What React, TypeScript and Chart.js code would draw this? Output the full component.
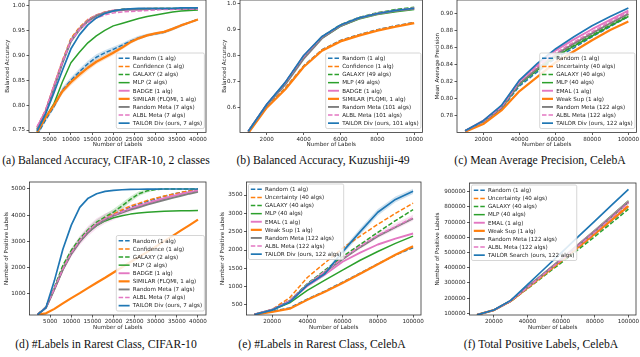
import React, { useEffect, useRef } from "react";
import { Chart, registerables } from "chart.js";

Chart.register(...registerables);

const FONT = "'DejaVu Sans', sans-serif";
const FS = 5.6;
const INK = "#1e1e1e";

// ---------- (a) Balanced Accuracy, CIFAR-10, 2 classes
const A_X = [2000, 4000, 6000, 8000, 10000, 12000, 14000, 16000, 18000, 20000, 22000, 24000, 26000, 28000, 30000, 32000, 34000, 36000, 38000, 40000];
const A_RANDOM = [0.740, 0.770, 0.797, 0.830, 0.850, 0.867, 0.883, 0.896, 0.905, 0.912, 0.920, 0.928, 0.935, 0.940, 0.943, 0.946, 0.953, 0.960, 0.966, 0.972];
const A_CONF = [0.755, 0.790, 0.840, 0.890, 0.934, 0.956, 0.972, 0.981, 0.987, 0.990, 0.992, 0.993, 0.993, 0.994, 0.994, 0.994, 0.994, 0.994, 0.994, 0.994];
const A_GALAXY = [0.752, 0.787, 0.837, 0.887, 0.931, 0.954, 0.970, 0.980, 0.986, 0.990, 0.992, 0.993, 0.993, 0.993, 0.994, 0.994, 0.994, 0.994, 0.994, 0.994];
const A_MLP = [0.745, 0.775, 0.803, 0.847, 0.885, 0.906, 0.925, 0.939, 0.950, 0.959, 0.964, 0.969, 0.974, 0.978, 0.981, 0.984, 0.987, 0.989, 0.990, 0.991];
const A_BADGE = [0.755, 0.788, 0.838, 0.887, 0.930, 0.953, 0.970, 0.980, 0.986, 0.990, 0.991, 0.992, 0.992, 0.993, 0.993, 0.993, 0.993, 0.993, 0.993, 0.993];
const A_SIMILAR = [0.745, 0.775, 0.800, 0.828, 0.846, 0.861, 0.875, 0.887, 0.896, 0.905, 0.915, 0.926, 0.934, 0.940, 0.944, 0.947, 0.953, 0.960, 0.966, 0.972];
const A_RMETA = [0.750, 0.785, 0.834, 0.884, 0.928, 0.951, 0.968, 0.979, 0.985, 0.989, 0.991, 0.992, 0.992, 0.993, 0.993, 0.993, 0.993, 0.993, 0.993, 0.993];
const A_ALBL = [0.757, 0.789, 0.838, 0.886, 0.929, 0.951, 0.966, 0.975, 0.981, 0.985, 0.987, 0.988, 0.989, 0.990, 0.991, 0.992, 0.992, 0.993, 0.993, 0.993];
const A_TAILOR = [0.748, 0.782, 0.825, 0.870, 0.913, 0.941, 0.961, 0.975, 0.984, 0.989, 0.992, 0.993, 0.994, 0.994, 0.994, 0.994, 0.994, 0.995, 0.995, 0.995];
const A_RANDOM_SD = [0.004, 0.004, 0.005, 0.006, 0.006, 0.006, 0.006, 0.006, 0.005, 0.005, 0.004, 0.004, 0.004, 0.003, 0.003, 0.003, 0.003, 0.003, 0.002, 0.002];
const A_SIMILAR_SD = [0.005, 0.005, 0.006, 0.006, 0.006, 0.006, 0.006, 0.005, 0.005, 0.005, 0.004, 0.004, 0.003, 0.003, 0.003, 0.003, 0.003, 0.002, 0.002, 0.002];
const A_X_TICKS = [5000, 10000, 15000, 20000, 25000, 30000, 35000, 40000];
const A_Y_TICKS = [0.75, 0.80, 0.85, 0.90, 0.95, 1.00];

// ---------- (b) Balanced Accuracy, Kuzushiji-49
const B_X = [1000, 2000, 3000, 4000, 5000, 6000, 7000, 8000, 9000, 10000];
const B_RANDOM = [0.505, 0.603, 0.675, 0.760, 0.822, 0.858, 0.880, 0.899, 0.914, 0.927];
const B_CONF = [0.505, 0.602, 0.674, 0.759, 0.821, 0.857, 0.879, 0.898, 0.913, 0.926];
const B_GALAXY = [0.510, 0.612, 0.695, 0.797, 0.872, 0.918, 0.946, 0.964, 0.976, 0.985];
const B_MLP = [0.510, 0.611, 0.692, 0.792, 0.867, 0.912, 0.940, 0.957, 0.968, 0.976];
const B_BADGE = [0.510, 0.612, 0.695, 0.797, 0.871, 0.915, 0.943, 0.960, 0.972, 0.980];
const B_SIMILAR = [0.503, 0.600, 0.670, 0.756, 0.818, 0.854, 0.876, 0.895, 0.910, 0.924];
const B_RMETA = [0.508, 0.609, 0.688, 0.787, 0.866, 0.913, 0.942, 0.960, 0.971, 0.979];
const B_ALBL = [0.510, 0.612, 0.695, 0.796, 0.871, 0.916, 0.944, 0.962, 0.973, 0.982];
const B_TAILOR = [0.510, 0.613, 0.697, 0.800, 0.873, 0.917, 0.944, 0.961, 0.973, 0.981];
const B_X_TICKS = [2000, 4000, 6000, 8000, 10000];
const B_Y_TICKS = [0.6, 0.7, 0.8, 0.9, 1.0];

// ---------- (c) Mean Average Precision, CelebA
const C_X = [10000, 20000, 30000, 40000, 50000, 60000, 70000, 80000, 90000, 100000];
const C_RANDOM = [0.762, 0.772, 0.788, 0.815, 0.832, 0.848, 0.860, 0.873, 0.885, 0.897];
const C_UNC = [0.762, 0.773, 0.790, 0.819, 0.837, 0.853, 0.866, 0.878, 0.889, 0.900];
const C_GALAXY = [0.762, 0.773, 0.789, 0.818, 0.835, 0.851, 0.863, 0.875, 0.887, 0.898];
const C_MLP = [0.762, 0.773, 0.789, 0.817, 0.834, 0.850, 0.862, 0.874, 0.886, 0.897];
const C_EMAL = [0.762, 0.774, 0.791, 0.821, 0.840, 0.857, 0.870, 0.882, 0.893, 0.904];
const C_WEAK = [0.761, 0.770, 0.786, 0.809, 0.826, 0.843, 0.856, 0.869, 0.881, 0.891];
const C_RMETA = [0.762, 0.773, 0.789, 0.818, 0.836, 0.852, 0.865, 0.877, 0.889, 0.900];
const C_ALBL = [0.762, 0.773, 0.790, 0.820, 0.838, 0.854, 0.867, 0.879, 0.891, 0.902];
const C_TAILOR = [0.762, 0.774, 0.792, 0.822, 0.842, 0.859, 0.873, 0.886, 0.897, 0.907];
const C_X_TICKS = [20000, 40000, 60000, 80000, 100000];
const C_Y_TICKS = [0.78, 0.80, 0.82, 0.84, 0.86, 0.88, 0.90];

// ---------- (d) #Labels in Rarest Class, CIFAR-10
const D_X = [2000, 4000, 6000, 8000, 10000, 12000, 14000, 16000, 18000, 20000, 22000, 24000, 26000, 28000, 30000, 32000, 34000, 36000, 38000, 40000];
const D_RANDOM = [200, 480, 1200, 1960, 2560, 3020, 3390, 3670, 3870, 4020, 4160, 4300, 4420, 4530, 4630, 4720, 4800, 4870, 4930, 4980];
const D_CONF = [200, 480, 1200, 1960, 2570, 3030, 3400, 3680, 3890, 4050, 4200, 4350, 4450, 4560, 4650, 4730, 4800, 4870, 4920, 4960];
const D_GALAXY = [200, 500, 1250, 2080, 2660, 3100, 3450, 3730, 3930, 4120, 4350, 4600, 4820, 4930, 4980, 5000, 5000, 5000, 5000, 5000];
const D_MLP = [200, 470, 1200, 1950, 2550, 3000, 3350, 3600, 3780, 3900, 3980, 4040, 4080, 4110, 4130, 4145, 4155, 4165, 4170, 4175];
const D_BADGE = [200, 470, 1180, 1930, 2530, 2990, 3360, 3640, 3840, 4000, 4120, 4240, 4350, 4450, 4550, 4640, 4730, 4810, 4880, 4940];
const D_SIMILAR = [200, 250, 420, 630, 830, 1020, 1220, 1420, 1610, 1810, 2010, 2210, 2400, 2600, 2800, 3010, 3210, 3420, 3620, 3830];
const D_RMETA = [200, 460, 1170, 1920, 2520, 2980, 3340, 3620, 3820, 3980, 4100, 4210, 4300, 4400, 4490, 4580, 4660, 4740, 4820, 4890];
const D_ALBL = [200, 480, 1200, 1950, 2560, 3030, 3400, 3680, 3870, 4000, 4130, 4260, 4370, 4470, 4560, 4650, 4740, 4820, 4890, 4950];
const D_TAILOR = [200, 470, 1500, 2700, 3620, 4300, 4650, 4820, 4910, 4950, 4970, 4985, 4990, 4995, 4998, 5000, 5000, 5000, 5000, 5000];
const D_ALBL_SD = [0, 30, 80, 120, 160, 180, 200, 200, 190, 180, 160, 140, 120, 100, 80, 60, 50, 40, 30, 30];
const D_GALAXY_SD = [0, 20, 40, 60, 70, 80, 90, 100, 110, 120, 120, 110, 90, 60, 30, 10, 0, 0, 0, 0];
const D_X_TICKS = [5000, 10000, 15000, 20000, 25000, 30000, 35000, 40000];
const D_Y_TICKS = [1000, 2000, 3000, 4000, 5000];

// ---------- (e) #Labels in Rarest Class, CelebA
const E_X = [10000, 20000, 30000, 40000, 50000, 60000, 70000, 80000, 90000, 100000];
const E_RANDOM = [240, 330, 420, 660, 880, 1120, 1370, 1620, 1860, 2060];
const E_UNC = [240, 380, 700, 1250, 1650, 2050, 2380, 2700, 3000, 3280];
const E_GALAXY = [240, 370, 620, 1080, 1450, 1820, 2150, 2480, 2800, 3100];
const E_MLP = [240, 360, 560, 900, 1180, 1450, 1720, 1960, 2180, 2380];
const E_EMAL = [240, 370, 600, 1020, 1330, 1680, 1930, 2150, 2310, 2450];
const E_WEAK = [240, 310, 400, 640, 860, 1100, 1350, 1610, 1870, 2100];
const E_RMETA = [240, 370, 610, 1050, 1400, 1750, 2080, 2380, 2620, 2860];
const E_ALBL = [240, 370, 620, 1060, 1420, 1770, 2100, 2400, 2640, 2880];
const E_TAILOR = [240, 360, 580, 1040, 1350, 1950, 2500, 3030, 3380, 3600];
const E_TAILOR_SD = [0, 15, 30, 50, 60, 80, 90, 90, 80, 70];
const E_ALBL_SD = [0, 10, 20, 40, 50, 60, 70, 80, 80, 80];
const E_X_TICKS = [20000, 40000, 60000, 80000, 100000];
const E_Y_TICKS = [500, 1000, 1500, 2000, 2500, 3000, 3500];

// ---------- (f) Total Positive Labels, CelebA
const F_X = [10000, 20000, 30000, 40000, 50000, 60000, 70000, 80000, 90000, 100000];
const F_RANDOM = [90000, 121000, 180000, 267000, 355000, 443000, 531000, 619000, 708000, 800000];
const F_UNC = [90000, 121000, 181000, 268000, 357000, 446000, 535000, 625000, 717000, 810000];
const F_GALAXY = [90000, 120000, 178000, 262000, 347000, 432000, 518000, 605000, 694000, 785000];
const F_MLP = [90000, 121000, 183000, 275000, 366000, 459000, 552000, 646000, 742000, 840000];
const F_EMAL = [90000, 121000, 182000, 273000, 364000, 456000, 549000, 643000, 738000, 835000];
const F_WEAK = [90000, 121000, 180000, 267000, 356000, 445000, 533000, 622000, 713000, 805000];
const F_RMETA = [90000, 121000, 182000, 272000, 362000, 453000, 545000, 638000, 733000, 830000];
const F_ALBL = [90000, 121000, 181000, 270000, 360000, 450000, 541000, 633000, 728000, 825000];
const F_TAILOR = [90000, 122000, 185000, 289000, 393000, 498000, 602000, 706000, 811000, 915000];
const F_X_TICKS = [20000, 40000, 60000, 80000, 100000];
const F_Y_TICKS = [100000, 200000, 300000, 400000, 500000, 600000, 700000, 800000, 900000];

// ---------- styles
type Sty = { color: string; dash: number[]; w: number };
const STY: Record<string, Sty> = {
  random: { color: "#1f77b4", dash: [4.5, 2], w: 1.5 },
  conf: { color: "#ff7f0e", dash: [4.5, 2], w: 1.5 },
  galaxy: { color: "#2ca02c", dash: [4.5, 2], w: 1.5 },
  mlp: { color: "#2ca02c", dash: [], w: 1.5 },
  badge: { color: "#e377c2", dash: [], w: 1.9 },
  similar: { color: "#ff7f0e", dash: [], w: 2.2 },
  rmeta: { color: "#7f7f7f", dash: [], w: 1.9 },
  albl: { color: "#e377c2", dash: [4.5, 2], w: 1.5 },
  tailor: { color: "#1f77b4", dash: [], w: 1.7 },
};

type Series = { key: string; label: string; data: number[] };
type Band = { key: string; sd: number[] };
type Panel = {
  id: string;
  canvas: [number, number, number, number];
  frame: [number, number, number, number];
  xMin: number; xMax: number; yMin: number; yMax: number;
  xTicks: number[]; yTicks: number[]; yFmt: (v: number) => string;
  yTitle: string; yTitleX: number; xTitleY: number;
  xs: number[]; series: Series[]; bands: Band[];
  legendPos: "lr" | "ul";
  caption: string; capX: number; capY: number;
};

const f2 = (v: number) => v.toFixed(2);
const f1 = (v: number) => v.toFixed(1);
const f0 = (v: number) => String(Math.round(v));

const PANELS: Panel[] = [
  {
    id: "a", canvas: [0, 0, 213, 150], frame: [29, 0, 206, 132.5],
    xMin: 100, xMax: 41900, yMin: 0.745, yMax: 1.011,
    xTicks: A_X_TICKS, yTicks: A_Y_TICKS, yFmt: f2,
    yTitle: "Balanced Accuracy", yTitleX: 8, xTitleY: 145,
    xs: A_X,
    series: [
      { key: "random", label: "Random (1 alg)", data: A_RANDOM },
      { key: "conf", label: "Confidence (1 alg)", data: A_CONF },
      { key: "galaxy", label: "GALAXY (2 algs)", data: A_GALAXY },
      { key: "mlp", label: "MLP (2 algs)", data: A_MLP },
      { key: "badge", label: "BADGE (1 alg)", data: A_BADGE },
      { key: "similar", label: "SIMILAR (FLQMI, 1 alg)", data: A_SIMILAR },
      { key: "rmeta", label: "Random Meta (7 algs)", data: A_RMETA },
      { key: "albl", label: "ALBL Meta (7 algs)", data: A_ALBL },
      { key: "tailor", label: "TAILOR Div (ours, 7 algs)", data: A_TAILOR },
    ],
    bands: [{ key: "random", sd: A_RANDOM_SD }, { key: "similar", sd: A_SIMILAR_SD }],
    legendPos: "lr",
    caption: "(a) Balanced Accuracy, CIFAR-10, 2 classes", capX: 106, capY: 161,
  },
  {
    id: "b", canvas: [215, 0, 213, 150], frame: [240, 0, 422.5, 132.5],
    xMin: 550, xMax: 10450, yMin: 0.505, yMax: 1.0126,
    xTicks: B_X_TICKS, yTicks: B_Y_TICKS, yFmt: f1,
    yTitle: "Balanced Accuracy", yTitleX: 225, xTitleY: 145,
    xs: B_X,
    series: [
      { key: "random", label: "Random (1 alg)", data: B_RANDOM },
      { key: "conf", label: "Confidence (1 alg)", data: B_CONF },
      { key: "galaxy", label: "GALAXY (49 algs)", data: B_GALAXY },
      { key: "mlp", label: "MLP (49 algs)", data: B_MLP },
      { key: "badge", label: "BADGE (1 alg)", data: B_BADGE },
      { key: "similar", label: "SIMILAR (FLQMI, 1 alg)", data: B_SIMILAR },
      { key: "rmeta", label: "Random Meta (101 algs)", data: B_RMETA },
      { key: "albl", label: "ALBL Meta (101 algs)", data: B_ALBL },
      { key: "tailor", label: "TAILOR Div (ours, 101 algs)", data: B_TAILOR },
    ],
    bands: [],
    legendPos: "lr",
    caption: "(b) Balanced Accuracy, Kuzushiji-49", capX: 323, capY: 161,
  },
  {
    id: "c", canvas: [427, 0, 213, 150], frame: [457, 0, 636.5, 132.5],
    xMin: 5500, xMax: 104500, yMin: 0.760, yMax: 0.9165,
    xTicks: C_X_TICKS, yTicks: C_Y_TICKS, yFmt: f2,
    yTitle: "Mean Average Precision", yTitleX: 438, xTitleY: 145,
    xs: C_X,
    series: [
      { key: "random", label: "Random (1 alg)", data: C_RANDOM },
      { key: "conf", label: "Uncertainty (40 algs)", data: C_UNC },
      { key: "galaxy", label: "GALAXY (40 algs)", data: C_GALAXY },
      { key: "mlp", label: "MLP (40 algs)", data: C_MLP },
      { key: "badge", label: "EMAL (1 alg)", data: C_EMAL },
      { key: "similar", label: "Weak Sup (1 alg)", data: C_WEAK },
      { key: "rmeta", label: "Random Meta (122 algs)", data: C_RMETA },
      { key: "albl", label: "ALBL Meta (122 algs)", data: C_ALBL },
      { key: "tailor", label: "TAILOR Div (ours, 122 algs)", data: C_TAILOR },
    ],
    bands: [],
    legendPos: "lr",
    caption: "(c) Mean Average Precision, CelebA", capX: 540, capY: 161,
  },
  {
    id: "d", canvas: [0, 176, 213, 156], frame: [29.5, 182, 206, 315],
    xMin: 100, xMax: 41900, yMin: 186, yMax: 5267,
    xTicks: D_X_TICKS, yTicks: D_Y_TICKS, yFmt: f0,
    yTitle: "Number of Positive Labels", yTitleX: 7, xTitleY: 328,
    xs: D_X,
    series: [
      { key: "random", label: "Random (1 alg)", data: D_RANDOM },
      { key: "conf", label: "Confidence (1 alg)", data: D_CONF },
      { key: "galaxy", label: "GALAXY (2 algs)", data: D_GALAXY },
      { key: "mlp", label: "MLP (2 algs)", data: D_MLP },
      { key: "badge", label: "BADGE (1 alg)", data: D_BADGE },
      { key: "similar", label: "SIMILAR (FLQMI, 1 alg)", data: D_SIMILAR },
      { key: "rmeta", label: "Random Meta (7 algs)", data: D_RMETA },
      { key: "albl", label: "ALBL Meta (7 algs)", data: D_ALBL },
      { key: "tailor", label: "TAILOR Div (ours, 7 algs)", data: D_TAILOR },
    ],
    bands: [{ key: "albl", sd: D_ALBL_SD }, { key: "galaxy", sd: D_GALAXY_SD }],
    legendPos: "lr",
    caption: "(d) #Labels in Rarest Class, CIFAR-10", capX: 106, capY: 345,
  },
  {
    id: "e", canvas: [215, 176, 213, 156], frame: [246.5, 182, 421, 315],
    xMin: 5500, xMax: 104500, yMin: 227, yMax: 3855,
    xTicks: E_X_TICKS, yTicks: E_Y_TICKS, yFmt: f0,
    yTitle: "Number of Positive Labels", yTitleX: 223, xTitleY: 328,
    xs: E_X,
    series: [
      { key: "random", label: "Random (1 alg)", data: E_RANDOM },
      { key: "conf", label: "Uncertainty (40 algs)", data: E_UNC },
      { key: "galaxy", label: "GALAXY (40 algs)", data: E_GALAXY },
      { key: "mlp", label: "MLP (40 algs)", data: E_MLP },
      { key: "badge", label: "EMAL (1 alg)", data: E_EMAL },
      { key: "similar", label: "Weak Sup (1 alg)", data: E_WEAK },
      { key: "rmeta", label: "Random Meta (122 algs)", data: E_RMETA },
      { key: "albl", label: "ALBL Meta (122 algs)", data: E_ALBL },
      { key: "tailor", label: "TAILOR Div (ours, 122 algs)", data: E_TAILOR },
    ],
    bands: [{ key: "tailor", sd: E_TAILOR_SD }, { key: "albl", sd: E_ALBL_SD }],
    legendPos: "ul",
    caption: "(e) #Labels in Rarest Class, CelebA", capX: 322, capY: 345,
  },
  {
    id: "f", canvas: [427, 176, 213, 156], frame: [469.5, 183, 636, 315],
    xMin: 5500, xMax: 104500, yMin: 88800, yMax: 957000,
    xTicks: F_X_TICKS, yTicks: F_Y_TICKS, yFmt: f0,
    yTitle: "Number of Positive Labels", yTitleX: 438, xTitleY: 328,
    xs: F_X,
    series: [
      { key: "random", label: "Random (1 alg)", data: F_RANDOM },
      { key: "conf", label: "Uncertainty (40 algs)", data: F_UNC },
      { key: "galaxy", label: "GALAXY (40 algs)", data: F_GALAXY },
      { key: "mlp", label: "MLP (40 algs)", data: F_MLP },
      { key: "badge", label: "EMAL (1 alg)", data: F_EMAL },
      { key: "similar", label: "Weak Sup (1 alg)", data: F_WEAK },
      { key: "rmeta", label: "Random Meta (122 algs)", data: F_RMETA },
      { key: "albl", label: "ALBL Meta (122 algs)", data: F_ALBL },
      { key: "tailor", label: "TAILOR Search (ours, 122 algs)", data: F_TAILOR },
    ],
    bands: [],
    legendPos: "ul",
    caption: "(f) Total Positive Labels, CelebA", capX: 541, capY: 345,
  },
];

function hexA(hex: string, a: number) {
  const n = parseInt(hex.slice(1), 16);
  return `rgba(${(n >> 16) & 255},${(n >> 8) & 255},${n & 255},${a})`;
}

function roundRectPath(ctx: CanvasRenderingContext2D, x: number, y: number, w: number, h: number, r: number) {
  ctx.beginPath();
  ctx.moveTo(x + r, y);
  ctx.lineTo(x + w - r, y);
  ctx.arcTo(x + w, y, x + w, y + r, r);
  ctx.lineTo(x + w, y + h - r);
  ctx.arcTo(x + w, y + h, x + w - r, y + h, r);
  ctx.lineTo(x + r, y + h);
  ctx.arcTo(x, y + h, x, y + h - r, r);
  ctx.lineTo(x, y + r);
  ctx.arcTo(x, y, x + r, y, r);
  ctx.closePath();
}

function buildConfig(p: Panel): any {
  const [cl, ct, cw, chh] = p.canvas;
  const [fl, ft, fr, fb] = p.frame;
  const lh = FS * 1.2;
  const datasets: any[] = [];
  p.bands.forEach((b) => {
    const base = p.series.find((s) => s.key === b.key)!.data;
    const c = STY[b.key].color;
    datasets.push({
      label: "_band_hi",
      data: p.xs.map((x, j) => ({ x, y: base[j] + b.sd[j] })),
      borderWidth: 0, borderColor: "rgba(0,0,0,0)", pointRadius: 0,
      backgroundColor: hexA(c, 0.22), fill: "+1", order: 100,
    });
    datasets.push({
      label: "_band_lo",
      data: p.xs.map((x, j) => ({ x, y: base[j] - b.sd[j] })),
      borderWidth: 0, borderColor: "rgba(0,0,0,0)", pointRadius: 0,
      fill: false, order: 100,
    });
  });
  const n = p.series.length;
  p.series.forEach((s, i) => {
    const st = STY[s.key];
    datasets.push({
      label: s.label,
      data: p.xs.map((x, j) => ({ x, y: s.data[j] })),
      borderColor: st.color, borderDash: st.dash, borderWidth: st.w,
      pointRadius: 0, fill: false, tension: 0, order: n - i,
      borderCapStyle: "butt", borderJoinStyle: "round",
    });
  });

  const frameLegend = {
    id: "frameLegend",
    afterDatasetsDraw(chart: any) {
      const ctx: CanvasRenderingContext2D = chart.ctx;
      const a = chart.chartArea;
      ctx.save();
      ctx.strokeStyle = "#333";
      ctx.lineWidth = 0.8;
      ctx.setLineDash([]);
      ctx.strokeRect(a.left, a.top, a.right - a.left, a.bottom - a.top);

      ctx.font = `${FS}px ${FONT}`;
      const tw = Math.max(...p.series.map((s) => ctx.measureText(s.label).width));
      const rowH = 8.1;
      const padX = 2.3, hl = 11, gap = 3.2;
      const w = padX + hl + gap + tw + padX;
      const h = rowH * n + 2.6;
      let x0: number, y0: number;
      if (p.legendPos === "lr") { x0 = a.right - 1.6 - w; y0 = a.bottom - 4 - h; }
      else { x0 = a.left + 2; y0 = a.top + 2; }
      roundRectPath(ctx, x0, y0, w, h, 1.6);
      ctx.fillStyle = "rgba(255,255,255,0.85)";
      ctx.fill();
      ctx.strokeStyle = "#cccccc";
      ctx.lineWidth = 0.8;
      ctx.stroke();
      p.series.forEach((s, i) => {
        const st = STY[s.key];
        const cy = y0 + 1.3 + rowH * (i + 0.5);
        ctx.beginPath();
        ctx.setLineDash(st.dash);
        ctx.strokeStyle = st.color;
        ctx.lineWidth = st.w;
        ctx.lineCap = "butt";
        ctx.moveTo(x0 + padX, cy);
        ctx.lineTo(x0 + padX + hl, cy);
        ctx.stroke();
        ctx.setLineDash([]);
        ctx.fillStyle = INK;
        ctx.textBaseline = "middle";
        ctx.textAlign = "left";
        ctx.fillText(s.label, x0 + padX + hl + gap, cy + 0.3);
      });
      ctx.restore();
    },
  };

  const tickFont = { family: FONT, size: FS };
  return {
    type: "line",
    data: { datasets },
    plugins: [frameLegend],
    options: {
      animation: false,
      responsive: false,
      maintainAspectRatio: false,
      devicePixelRatio: 1,
      events: [],
      layout: { padding: { left: 0, top: ft - ct, right: cl + cw - fr, bottom: 0 } },
      plugins: { legend: { display: false }, tooltip: { enabled: false } },
      scales: {
        x: {
          type: "linear", min: p.xMin, max: p.xMax,
          afterBuildTicks: (s: any) => { s.ticks = p.xTicks.map((v) => ({ value: v })); },
          afterFit: (s: any) => { s.height = ct + chh - fb; s.paddingLeft = 0; s.paddingRight = 0; },
          ticks: { font: tickFont, color: INK, padding: 1, maxRotation: 0, autoSkip: false, callback: (v: any) => f0(Number(v)) },
          grid: { display: true, drawOnChartArea: false, drawTicks: true, tickLength: 2.5, color: "#333", lineWidth: 0.8 },
          border: { display: false },
          title: { display: true, text: "Number of Labels", font: tickFont, color: INK, padding: { top: 0, bottom: ct + chh - p.xTitleY - lh / 2 } },
        },
        y: {
          type: "linear", min: p.yMin, max: p.yMax,
          afterBuildTicks: (s: any) => { s.ticks = p.yTicks.map((v) => ({ value: v })); },
          afterFit: (s: any) => { s.width = fl - cl; s.paddingTop = 0; s.paddingBottom = 0; },
          ticks: { font: tickFont, color: INK, padding: 1.5, autoSkip: false, callback: (v: any) => p.yFmt(Number(v)) },
          grid: { display: true, drawOnChartArea: false, drawTicks: true, tickLength: 2.5, color: "#333", lineWidth: 0.8 },
          border: { display: false },
          title: { display: true, text: p.yTitle, font: tickFont, color: INK, padding: { top: p.yTitleX - cl - lh / 2, bottom: 0 } },
        },
      },
    },
  };
}

function PanelChart({ p }: { p: Panel }) {
  const ref = useRef<HTMLCanvasElement>(null);
  useEffect(() => {
    const chart = new Chart(ref.current as HTMLCanvasElement, buildConfig(p));
    return () => chart.destroy();
  }, [p]);
  const [l, t, w, h] = p.canvas;
  return (
    <canvas
      ref={ref}
      width={w}
      height={h}
      style={{ position: "absolute", left: l, top: t, width: w, height: h }}
    />
  );
}

const CAP_FS = 11.7;

export default function App() {
  return (
    <div style={{ position: "fixed", left: 0, top: 0, width: 640, height: 357, background: "#fff", overflow: "hidden" }}>
      {PANELS.map((p) => (
        <PanelChart key={p.id} p={p} />
      ))}
      {PANELS.map((p) => (
        <div
          key={"cap" + p.id}
          style={{
            position: "absolute",
            left: p.capX - 130,
            width: 260,
            top: p.capY - 5.8,
            textAlign: "center",
            whiteSpace: "nowrap",
            fontFamily: "'Liberation Serif', 'Times New Roman', serif",
            fontSize: CAP_FS,
            lineHeight: 1,
            color: "#111",
          }}
        >
          {p.caption}
        </div>
      ))}
    </div>
  );
}
